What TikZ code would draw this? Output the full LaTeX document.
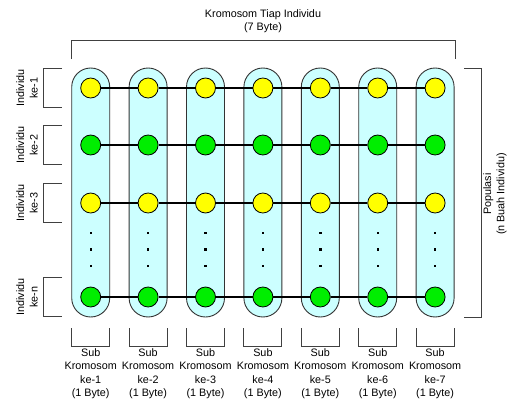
\documentclass[tikz,border=0pt]{standalone}
\usepackage{fontspec}
\setmainfont{Liberation Sans}
\usetikzlibrary{positioning}
\definecolor{capfill}{HTML}{CCFFFF}
\definecolor{genone}{HTML}{FFFF00}
\definecolor{genzero}{HTML}{00EE00}
\definecolor{brk}{HTML}{404040}
\tikzset{capsule/.style={draw=black!80,fill=capfill,line width=.9pt,rounded corners=19pt}, gene/.style={circle,draw=black,line width=.8pt,minimum size=20pt,inner sep=0pt}, link/.style={line width=1.2pt,black}, brace/.style={draw=brk,line width=.9pt}, note/.style={font=\fontsize{10.8}{13.3}\selectfont,align=center,inner sep=0pt}}
\begin{document}
\begin{tikzpicture}[x=1pt,y=-1pt]
\useasboundingbox (0,0) rectangle (513,404);
\node[note] (kromosom) at (263,21.5) {Kromosom Tiap Individu\\(7 Byte)};
\draw[brace] (71.7,59) |- (455,40) -- (455,59);
\draw[brace] (464,68) -| (481,317.5) -- (464,317.5);
\node[note,rotate=90] (populasi) at (495,194) {Populasi\\(n Buah Individu)};
\foreach \k in {1,...,7}{
  \pgfmathsetmacro\cx{90.7+57.4*(\k-1)}
  \draw[capsule] (\cx-19,68) rectangle (\cx+19,317);
  \foreach \r/\y/\c in {1/88/genone,2/145/genzero,3/203/genone,4/297/genzero}
    \node[gene,fill=\c] (g-\r-\k) at (\cx,\y) {};
  \foreach \d in {233,249.5,266}
    \fill (\cx-1.2,\d-1.2) rectangle ++(2.5,2.5);
  \draw[brace] (\cx-19,328) |- (\cx+19,346) -- (\cx+19,328);
  \node[note,anchor=north] (sub-\k) at (\cx,348.5) {Sub\\Kromosom\\ke-\k\\(1 Byte)};
}
\foreach \r in {1,2,3,4}{
  \foreach \a/\b in {1/2,2/3,3/4,4/5,5/6,6/7}
    \draw[link] (g-\r-\a) -- (g-\r-\b);
}
\foreach \r/\y/\t in {1/88/1,2/145/2,3/203/3,4/297/n}{
  \draw[brace] (62,\y-19.5) -| (43,\y+19.5) -- (62,\y+19.5);
  \node[note,rotate=90] (ind-\r) at (27,\y) {Individu\\ke-\t};
}
\end{tikzpicture}
\end{document}
